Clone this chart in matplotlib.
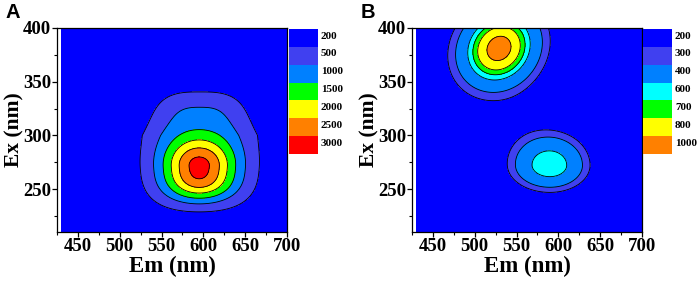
import numpy as np
import matplotlib
matplotlib.use("Agg")
import matplotlib.pyplot as plt
from matplotlib.patches import Rectangle

# axis ranges (nm)
em_lim = (430, 700)
ex_lim = (210, 400)
em_ticks = [450, 500, 550, 600, 650, 700]
ex_ticks = [250, 300, 350, 400]

# contour levels / colours as in the legends
levels_a = [200, 500, 1000, 1500, 2000, 2500, 3000]
colors_a = ["#0000FF", "#4040F0", "#0080FF", "#00FF00", "#FFFF00", "#FF8000", "#FF0000"]
levels_b = [200, 300, 400, 600, 700, 800, 1000]
colors_b = ["#0000FF", "#4040F0", "#0080FF", "#00FFFF", "#00FF00", "#FFFF00", "#FF8000"]

# fluorescence peaks
# amp, em0, ex0, s_left, s_right, s_down, s_up, p_x, p_down, p_up, k, tilt, taper
peaks_a = [
    (2150, 595, 271, 28, 28, 24, 19, 2, 3, 2, 1.0, 0, 0),             # core
    (1080, 596, 300, 58, 58, 58.5, 36.7, 3, 4, 4.5, 1.0, 0, 0.009),  # broad dome
]
peaks_b = [
    (1200, 529, 381, 30, 30, 22.7, 22.7, 2, 2, 2, 0.7, 15, 0),
    (690, 590, 272, 38.5, 37, 19.4, 24, 2, 2, 2, 1.0, 0, 0),
]


def peak(X, Y, amp, x0, y0, sl, sr, sd, su, px, pd, pu, k, tilt, taper):
    dx, dy = X - x0, Y - y0
    if tilt:
        t = np.radians(tilt)
        dx, dy = dx*np.cos(t) + dy*np.sin(t), -dx*np.sin(t) + dy*np.cos(t)
    sx = np.where(dx < 0, sl, sr) / (1 + taper*np.clip(dy, 0, None))
    sy = np.where(dy < 0, sd, su)
    py = np.where(dy < 0, pd, pu)
    q = (np.abs(dx)/sx)**px + (np.abs(dy)/sy)**py
    return amp*np.exp(-0.5*q**k)


def field(peaks):
    em = np.linspace(*em_lim, 541)
    ex = np.linspace(*ex_lim, 381)
    X, Y = np.meshgrid(em, ex)
    Z = sum(peak(X, Y, *p) for p in peaks)
    return X, Y, Z


plt.rcParams["font.family"] = ["Liberation Serif", "DejaVu Serif"]
plt.rcParams["font.weight"] = "bold"

W, H = 699, 284
fig = plt.figure(figsize=(W/100, H/100), dpi=100)


def panel(left, peaks, levels, colors, leg_left, letter):
    ax = fig.add_axes([left/W, 1-232/H, 230/W, 204/H])
    X, Y, Z = field(peaks)
    bounds = list(levels[1:])
    ax.contourf(X, Y, Z, levels=[-1] + bounds + [1e6], colors=colors)
    ax.contour(X, Y, Z, levels=bounds, colors="black", linewidths=0.6)
    ax.set_xlim(*em_lim); ax.set_ylim(*ex_lim)
    ax.set_xticks(em_ticks); ax.set_yticks(ex_ticks)
    ax.set_xticks(np.arange(425, 701, 25), minor=True)
    ax.set_yticks(np.arange(225, 401, 25), minor=True)
    ax.tick_params(which="major", direction="out", length=3.5, width=0.9, labelsize=13.5, pad=0.8)
    ax.tick_params(which="minor", direction="out", length=2.2, width=0.8)
    for lab in ax.get_xticklabels() + ax.get_yticklabels():
        lab.set_fontweight("bold")
    ax.set_xlabel("Em (nm)", fontsize=16.5, fontweight="bold", labelpad=1)
    ax.set_ylabel("Ex (nm)", fontsize=15.5, fontweight="bold", labelpad=-1)
    for s in ax.spines.values():
        s.set_linewidth(0.9)

    # stacked colour legend to the right of the map
    lg = fig.add_axes([leg_left/W, 1-154/H, 29/W, 125/H])
    lg.set_xlim(0, 1); lg.set_ylim(0, len(levels)); lg.axis("off")
    for i, (lv, c) in enumerate(zip(levels, colors)):
        y = len(levels) - 1 - i
        lg.add_patch(Rectangle((0, y), 1, 1, facecolor=c, edgecolor="none"))
        lg.text(1.1, y + 0.6, str(lv), fontsize=8, fontweight="bold", va="center", ha="left")

    fig.text(left/W - 51/W, 1-12/H, letter, fontsize=14.5, fontweight="bold",
             family=["Liberation Sans", "DejaVu Sans"], va="center", ha="left")


panel(57, peaks_a, levels_a, colors_a, 289, "A")
panel(412, peaks_b, levels_b, colors_b, 643, "B")

fig.savefig("out.png", dpi=100)
